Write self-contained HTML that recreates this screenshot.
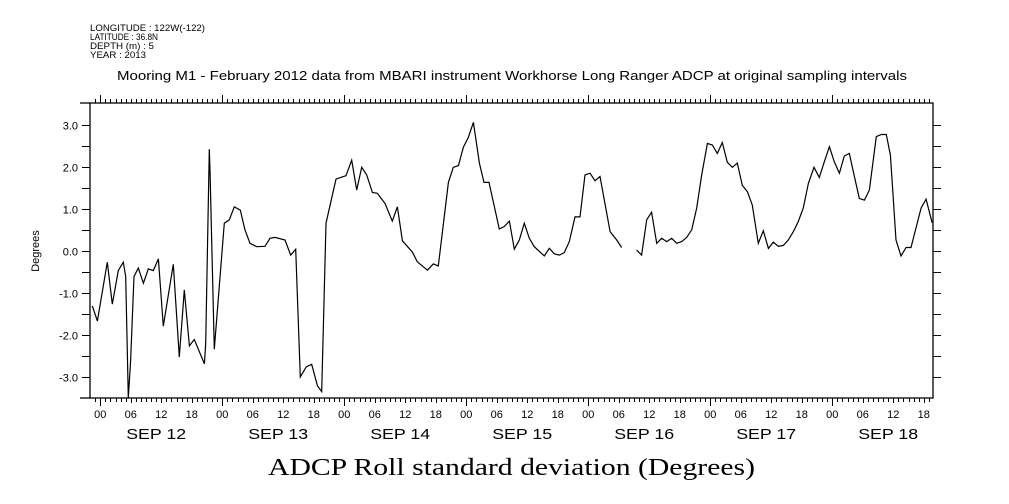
<!DOCTYPE html>
<html><head><meta charset="utf-8"><style>
html,body{margin:0;padding:0;background:#fff;}
svg{display:block;}
text{font-family:"Liberation Sans",sans-serif;fill:#000;}
</style></head><body>
<svg id="chart" width="1009" height="504" viewBox="0 0 1009 504" xmlns="http://www.w3.org/2000/svg">
<g font-size="9">
<text x="90" y="31" textLength="115" lengthAdjust="spacingAndGlyphs">LONGITUDE : 122W(-122)</text>
<text x="90" y="40" textLength="68" lengthAdjust="spacingAndGlyphs">LATITUDE : 36.8N</text>
<text x="90" y="49" textLength="64" lengthAdjust="spacingAndGlyphs">DEPTH (m) : 5</text>
<text x="90" y="58" textLength="56" lengthAdjust="spacingAndGlyphs">YEAR : 2013</text>
</g>
<text x="117" y="80" textLength="790" lengthAdjust="spacingAndGlyphs" font-size="13">Mooring M1 - February 2012 data from MBARI instrument Workhorse Long Ranger ADCP at original sampling intervals</text>
<text x="268" y="475" textLength="487" lengthAdjust="spacingAndGlyphs" font-size="24" style="font-family:'Liberation Serif',serif">ADCP Roll standard deviation (Degrees)</text>
<text transform="translate(39,251) rotate(-90)" text-anchor="middle" font-size="11">Degrees</text>
<g id="axes"></g>
<g id="series"></g>
</svg>
<script>
const hours=[-1.57,-0.58,1.38,2.37,3.55,4.53,4.99,5.51,5.97,6.63,7.48,8.47,9.45,10.43,11.42,12.40,14.37,15.55,16.53,17.52,18.50,20.47,20.73,21.45,21.58,22.43,24.40,25.38,26.37,27.55,28.47,29.45,30.76,32.40,33.39,34.37,36.34,37.45,38.44,39.35,40.53,41.58,42.70,43.55,44.40,46.37,48.34,49.45,50.44,51.42,52.40,53.52,54.50,56.01,57.45,58.44,59.42,61.39,62.37,64.34,65.52,66.50,68.47,69.45,70.44,71.42,72.40,73.39,74.57,75.49,76.47,78.50,79.48,80.47,81.45,82.43,83.41,84.40,85.38,87.35,88.33,89.32,90.30,91.28,92.27,93.38,94.37,95.35,96.34,97.32,98.31,100.28,101.58,102.56,104.0,105.51,106.49,107.48,108.46,109.46,110.44,111.42,112.41,113.39,114.38,115.36,116.34,117.33,118.31,119.42,120.40,121.38,122.37,123.35,124.34,125.32,126.30,127.29,128.27,129.45,130.43,131.42,132.40,133.39,134.37,135.35,136.34,137.32,138.30,139.29,140.40,141.45,142.43,143.42,144.40,145.39,146.37,147.35,148.34,149.32,150.31,151.29,152.66,153.65,154.63,155.42,156.54,157.52,158.51,159.49,161.46,162.45,163.63];
const values=[-1.30,-1.66,-0.26,-1.26,-0.46,-0.26,-0.60,-3.49,-2.61,-0.60,-0.40,-0.76,-0.42,-0.46,-0.18,-1.78,-0.31,-2.52,-0.92,-2.25,-2.10,-2.68,-2.19,2.43,1.93,-2.33,0.67,0.75,1.06,0.98,0.51,0.19,0.11,0.12,0.31,0.33,0.27,-0.09,0.05,-2.99,-2.75,-2.69,-3.20,-3.34,0.67,1.72,1.80,2.17,1.46,2.00,1.82,1.40,1.38,1.14,0.72,1.06,0.25,-0.02,-0.25,-0.45,-0.30,-0.35,1.64,2.00,2.04,2.48,2.71,3.07,2.10,1.64,1.64,0.53,0.59,0.72,0.05,0.27,0.67,0.31,0.11,-0.11,0.07,-0.06,-0.09,-0.03,0.23,0.82,0.82,1.82,1.86,1.68,1.78,0.47,0.27,0.09,null,0.03,-0.09,0.75,0.93,0.19,0.31,0.23,0.31,0.19,0.23,0.33,0.51,1.03,1.82,2.57,2.53,2.33,2.59,2.12,2.00,2.10,1.57,1.42,1.10,0.19,0.49,0.07,0.22,0.12,0.14,0.27,0.47,0.71,1.03,1.62,2.00,1.76,2.13,2.49,2.13,1.86,2.27,2.33,1.78,1.26,1.22,1.46,2.73,2.78,2.78,2.29,0.27,-0.11,0.09,0.09,1.03,1.24,0.68];
const yTickLabels=["3.0","2.0","1.0","0.0","-1.0","-2.0","-3.0"];
const yTickValues=[3,2,1,0,-1,-2,-3];
const hourLabels=["00","06","12","18"];
const dayLabels=["SEP 12","SEP 13","SEP 14","SEP 15","SEP 16","SEP 17","SEP 18"];

const L=90,R=933,T=103,B=398;
const x0=100.3, pxh=122/24;
const y0=251.3, pxv=42;
const X=h=>x0+h*pxh;
const Y=v=>y0-v*pxv;
const NS="http://www.w3.org/2000/svg";
const axes=document.getElementById('axes');
const series=document.getElementById('series');
function mk(tag,attrs,parent){const e=document.createElementNS(NS,tag);for(const k in attrs)e.setAttribute(k,attrs[k]);parent.appendChild(e);return e;}

const frame=mk('rect',{x:L,y:T,width:R-L,height:B-T,fill:'none',stroke:'#000','stroke-width':1.3},axes);


const ext1=mk('line',{x1:80,y1:T,x2:L,y2:T,stroke:'#000','stroke-width':1.3},axes);


const ext2=mk('line',{x1:80,y1:B,x2:L,y2:B,stroke:'#000','stroke-width':1.3},axes);



let d='';
for(let h=-1;h<=163;h++){
  const x=Math.round(X(h))+0.5;
  if(x<L||x>R)continue;
  const isDay=(h%24===0), is6=(h%6===0);
  const lb=isDay?8:(is6?5:4);
  const lt=isDay?8:4;
  d+=`M${x},${B}V${B+lb}M${x},${T}V${T-lt}`;
}
const xt=mk('path',{d:d,stroke:'#000','stroke-width':1,fill:'none'},axes);


for(let day=0;day<7;day++){
  for(let i=0;i<4;i++){
    const h=day*24+i*6;
    const t=mk('text',{x:X(h),y:418,'text-anchor':'middle','font-size':11},axes);
    t.textContent=hourLabels[i];
    
    
  }
  const dl=mk('text',{x:X(day*24+11)-30,y:439,'font-size':15,textLength:60,lengthAdjust:'spacingAndGlyphs'},axes);
  dl.textContent=dayLabels[day];
  
  
}
let yd='';
for(let v=-3.5;v<=3.01;v+=0.5){
  const y=Math.round(Y(v))+0.5;
  if(y<T||y>B)continue;
  yd+=`M${L-8},${y}H${L}M${R},${y}H${R+8}`;
}
const yt=mk('path',{d:yd,stroke:'#000','stroke-width':1,fill:'none'},axes);


yTickValues.forEach((v,i)=>{
  const t=mk('text',{x:78,y:Y(v)+4,'text-anchor':'end','font-size':11},axes);
  t.textContent=yTickLabels[i];
  
  
});
let p='',pen=false;
for(let i=0;i<hours.length;i++){
  if(values[i]===null){pen=false;continue;}
  const yy=Math.max(T,Math.min(B,Y(values[i])));
  p+=(pen?'L':'M')+X(hours[i]).toFixed(1)+','+yy.toFixed(1);
  pen=true;
}
const line=mk('path',{d:p,stroke:'#000','stroke-width':1.2,fill:'none'},series);


</script>
</body></html>
